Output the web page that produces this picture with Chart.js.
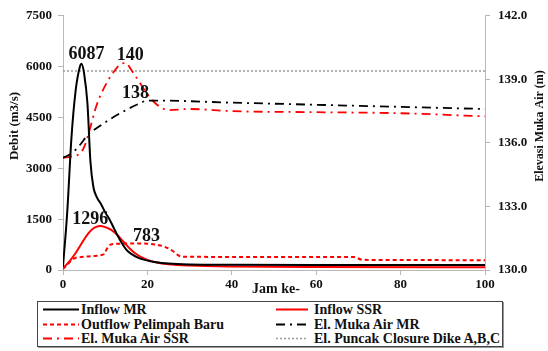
<!DOCTYPE html>
<html>
<head>
<meta charset="utf-8">
<script src="https://cdn.jsdelivr.net/npm/chart.js@4.4.1/dist/chart.umd.min.js"></script>
<style>
  html, body { margin: 0; padding: 0; background: #fff; }
  #wrap { position: relative; width: 548px; height: 351px; overflow: hidden; }
  #chart { position: absolute; left: 0; top: 0; }
  #legend {
    position: absolute; left: 37px; top: 301px; width: 464px; height: 44px;
    border: 1.5px solid #444; box-shadow: 1px 1px 0 #999;
    font: bold 14px "Liberation Serif", "Times New Roman", serif; color: #111;
  }
  .item { position: absolute; height: 15px; line-height: 15px; white-space: nowrap; }
  .item svg { position: absolute; top: 0; }
  .item span { position: absolute; top: 0; }
</style>
</head>
<body>
<div id="wrap">
  <canvas id="chart" width="548" height="300"></canvas>
  <div id="legend"></div>
</div>
<script>
// hours (Jam ke-) and values
const hoursInflowMR = [0, 1, 2, 3, 4, 4.4, 5, 5.8, 6.5, 7.2, 8, 9, 10, 11, 12, 13, 14, 15, 16, 18, 20, 22, 25, 30, 40, 60, 100];
const inflowMR      = [100, 1700, 3900, 5300, 6000, 6087, 5800, 4900, 3200, 2450, 2150, 1950, 1700, 1500, 1250, 1000, 780, 600, 490, 350, 280, 230, 190, 165, 155, 150, 150];

const hoursInflowSSR = [0, 1, 2, 3, 4, 5, 6, 7, 8, 8.8, 10, 11, 12, 13, 14, 15, 16, 17, 18, 20, 22, 25, 30, 40, 60, 100];
const inflowSSR      = [60, 180, 330, 500, 700, 900, 1080, 1210, 1280, 1296, 1265, 1210, 1130, 1020, 880, 740, 610, 500, 420, 300, 230, 170, 130, 100, 85, 80];

const hoursOutflow = [0, 1, 2, 3, 4, 6, 8, 9, 9.8, 10.5, 11.3, 13, 16, 20, 22, 24, 26, 27.5, 29, 50, 69, 71, 80, 100];
const outflowBaru  = [30, 150, 280, 360, 380, 400, 420, 440, 480, 650, 750, 775, 783, 775, 750, 690, 560, 420, 390, 385, 380, 300, 295, 285];

const hoursElevMR = [0, 2, 4, 6, 8, 11, 14, 18, 20, 22, 40, 60, 80, 100];
const elevMR      = [135.3, 135.5, 135.9, 136.4, 136.7, 137.1, 137.45, 137.85, 138.0, 138.0, 137.9, 137.8, 137.7, 137.6];

const hoursElevSSR = [0, 2, 4, 5, 6, 8, 10, 12, 14, 15, 16, 18, 20, 22, 25, 30, 40, 60, 80, 100];
const elevSSR      = [135.3, 135.35, 135.5, 135.8, 136.4, 137.8, 138.7, 139.35, 139.75, 139.77, 139.5, 138.9, 138.3, 137.85, 137.55, 137.6, 137.5, 137.45, 137.4, 137.25];

const hoursCrest = [0, 100];
const crestElev  = [139.4, 139.4];

// peak value labels
const peakText  = ['6087', '140', '138', '1296', '783'];
const peakHour  = [4.4, 15, 20, 8.8, 20];
const peakValue = [6087, 139.77, 138.0, 1296, 775];
const peakAxis  = ['y', 'y1', 'y1', 'y', 'y'];
const peakShift = [[5, -9], [4, -8], [-12, -7], [-10, -7], [-1, -7]];

const pts = (hs, vs) => hs.map((h, i) => ({ x: h, y: vs[i] }));

const serif = '"Liberation Serif", "Times New Roman", serif';
const tickFont = { family: serif, size: 13, weight: 'bold' };
const axisGrey = '#b8b8b8';

const peakLabelPlugin = {
  id: 'peakLabels',
  afterDatasetsDraw(chart) {
    const { ctx, scales } = chart;
    ctx.save();
    ctx.font = `bold 18px ${serif}`;
    ctx.fillStyle = '#111';
    ctx.textAlign = 'center';
    ctx.textBaseline = 'middle';
    peakText.forEach((t, i) => {
      const x = scales.x.getPixelForValue(peakHour[i]) + peakShift[i][0];
      const y = scales[peakAxis[i]].getPixelForValue(peakValue[i]) + peakShift[i][1];
      ctx.fillText(t, x, y);
    });
    ctx.restore();
  }
};

// axis titles drawn by hand: the right one reads bottom-to-top like the left one
const axisTitlePlugin = {
  id: 'axisTitles',
  afterDraw(chart) {
    const { ctx } = chart;
    const vtitle = (text, x, y, size) => {
      ctx.save();
      ctx.fillStyle = '#111';
      ctx.textAlign = 'center';
      ctx.textBaseline = 'middle';
      ctx.font = `bold ${size}px ${serif}`;
      ctx.translate(x, y);
      ctx.rotate(-Math.PI / 2);
      ctx.fillText(text, 0, 0);
      ctx.restore();
    };
    vtitle('Debit (m3/s)', 15, 126, 13);
    vtitle('Elevasi Muka Air (m)', 540, 126, 12);

    ctx.save();
    ctx.fillStyle = '#111';
    ctx.textAlign = 'center';
    ctx.textBaseline = 'middle';
    ctx.font = `bold 14px ${serif}`;
    ctx.fillText('Jam ke-', 276, 289);
    ctx.restore();
  }
};

const datasets = [
  { label: 'Inflow MR', data: pts(hoursInflowMR, inflowMR), yAxisID: 'y',
    borderColor: '#000', borderWidth: 2 },
  { label: 'Inflow SSR', data: pts(hoursInflowSSR, inflowSSR), yAxisID: 'y',
    borderColor: '#ff0000', borderWidth: 2 },
  { label: 'Outflow Pelimpah Baru', data: pts(hoursOutflow, outflowBaru), yAxisID: 'y',
    borderColor: '#ff0000', borderWidth: 2, borderDash: [4, 3] },
  { label: 'El. Muka Air MR', data: pts(hoursElevMR, elevMR), yAxisID: 'y1',
    borderColor: '#000', borderWidth: 1.8, borderDash: [9, 5, 2, 5] },
  { label: 'El. Muka Air SSR', data: pts(hoursElevSSR, elevSSR), yAxisID: 'y1',
    borderColor: '#ff0000', borderWidth: 1.8, borderDash: [9, 5, 2, 5] },
  { label: 'El. Puncak Closure Dike A,B,C', data: pts(hoursCrest, crestElev), yAxisID: 'y1',
    borderColor: '#9a9a9a', borderWidth: 1.5, borderDash: [2, 2] }
];

const chart = new Chart(document.getElementById('chart'), {
  type: 'line',
  data: { datasets },
  options: {
    responsive: false,
    animation: false,
    devicePixelRatio: 1,
    layout: { padding: { top: 11 } },
    elements: {
      point: { radius: 0 },
      line: { cubicInterpolationMode: 'monotone', fill: false }
    },
    plugins: { legend: { display: false }, tooltip: { enabled: false } },
    scales: {
      x: {
        type: 'linear', min: 0, max: 100,
        ticks: { stepSize: 20, font: tickFont, color: '#111', padding: 2, maxRotation: 0,
                 callback: v => String(v) },
        grid: { drawOnChartArea: false, tickLength: 5, color: axisGrey },
        border: { color: axisGrey },
        afterFit: s => { s.height = 30; }
      },
      y: {
        position: 'left', min: 0, max: 7500,
        ticks: { stepSize: 1500, font: tickFont, color: '#111', padding: 6,
                 callback: v => String(v) },
        grid: { drawOnChartArea: false, tickLength: 5, color: axisGrey },
        border: { color: axisGrey },
        afterFit: s => { s.width = 63; }
      },
      y1: {
        position: 'right', min: 130, max: 142,
        ticks: { stepSize: 3, font: tickFont, color: '#111', padding: 8,
                 callback: v => v.toFixed(1) },
        grid: { drawOnChartArea: false, tickLength: 5, color: axisGrey },
        border: { color: axisGrey },
        afterFit: s => { s.width = 63; }
      }
    }
  },
  plugins: [peakLabelPlugin, axisTitlePlugin]
});

// legend box: two columns, three rows
const legend = document.getElementById('legend');
const colSample = [5, 238];
const colSampleW = [36, 32];
const colText = [43, 276];
const rowTop = [0, 14.5, 29];
chart.data.datasets.forEach((ds, i) => {
  const col = i % 2, row = Math.floor(i / 2);
  const item = document.createElement('div');
  item.className = 'item';
  item.style.left = '0px';
  item.style.top = rowTop[row] + 'px';
  const w = colSampleW[col];
  const dash = ds.borderDash ? ds.borderDash.join(',') : 'none';
  item.innerHTML =
    `<svg width="${w}" height="15" style="left:${colSample[col]}px">` +
    `<line x1="0" y1="7.5" x2="${w}" y2="7.5" stroke="${ds.borderColor}" ` +
    `stroke-width="${ds.borderWidth}" stroke-dasharray="${dash}"/></svg>` +
    `<span style="left:${colText[col]}px">${ds.label}</span>`;
  legend.appendChild(item);
});
</script>
</body>
</html>
